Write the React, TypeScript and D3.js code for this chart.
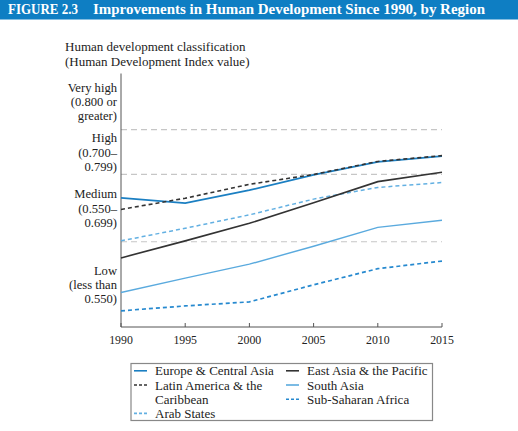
import React from 'react';
import * as d3 from 'd3';

// HDI values by region, 1990–2015
const years = [1990, 1995, 2000, 2005, 2010, 2015];
const europeCentralAsia = [0.648, 0.636, 0.665, 0.699, 0.728, 0.741];
const latinAmerica = [0.622, 0.647, 0.678, 0.700, 0.729, 0.742];
const eastAsiaPacific = [0.514, 0.552, 0.591, 0.637, 0.684, 0.705];
const southAsia = [0.437, 0.469, 0.500, 0.540, 0.582, 0.598];
const subSaharanAfrica = [0.396, 0.407, 0.416, 0.454, 0.490, 0.507];
const arabStates = [0.552, 0.580, 0.610, 0.645, 0.671, 0.682];

// classification thresholds and band labels
const thresholds = [0.55, 0.7, 0.8];
const bands = [
  { lo: 0.8, hi: 0.925, lines: ['Very high', '(0.800 or', 'greater)'] },
  { lo: 0.7, hi: 0.8, lines: ['High', '(0.700–', '0.799)'] },
  { lo: 0.55, hi: 0.7, lines: ['Medium', '(0.550–', '0.699)'] },
  { lo: 0.36, hi: 0.55, lines: ['Low', '(less than', '0.550)'] },
];

const series = [
  { name: 'Europe & Central Asia', values: europeCentralAsia, color: '#1b7fc2', dash: '', width: 1.7 },
  { name: 'Arab States', values: arabStates, color: '#63b0e2', dash: '4,3', width: 1.5 },
  { name: 'South Asia', values: southAsia, color: '#5aaade', dash: '', width: 1.4 },
  { name: 'Sub-Saharan Africa', values: subSaharanAfrica, color: '#2689cf', dash: '4,3', width: 1.7 },
  { name: 'East Asia & the Pacific', values: eastAsiaPacific, color: '#333333', dash: '', width: 1.6 },
  { name: 'Latin America & the Caribbean', values: latinAmerica, color: '#333333', dash: '4,3', width: 1.6 },
];

const W = 518;
const H = 431;
const serif = '"Liberation Serif", "Times New Roman", serif';

const x = d3.scaleLinear().domain([1990, 2015]).range([121, 442]);
const y = d3.scaleLinear().domain([0.36, 0.925]).range([327, 73.5]);

const line = d3
  .line<number>()
  .x((_, i) => x(years[i]))
  .y(d => y(d));

const legendItems = [
  { col: 0, row: 0, s: series[0], label: ['Europe & Central Asia'] },
  { col: 0, row: 1, s: series[5], label: ['Latin America & the', 'Caribbean'] },
  { col: 0, row: 3, s: series[1], label: ['Arab States'] },
  { col: 1, row: 0, s: series[4], label: ['East Asia & the Pacific'] },
  { col: 1, row: 1, s: series[2], label: ['South Asia'] },
  { col: 1, row: 2, s: series[3], label: ['Sub-Saharan Africa'] },
];

const App: React.FC = () => {
  const legX = [134, 286];
  const rowY = (r: number) => 370.8 + r * 14.2;

  return (
    <div style={{ position: 'fixed', left: 0, top: 0, background: '#fff' }}>
      <svg width={W} height={H} style={{ display: 'block' }}>
        <rect width={W} height={H} fill="#fff" />

        {/* title bar */}
        <rect x={0} y={0} width={W} height={19.5} fill="#0e7ec3" />
        <g fill="#fff" fontFamily={serif} fontWeight="bold" fontSize={15}>
          <text x={8} y={14} textLength={70} lengthAdjust="spacingAndGlyphs">
            FIGURE 2.3
          </text>
          <text x={93} y={14} textLength={392} lengthAdjust="spacingAndGlyphs">
            Improvements in Human Development Since 1990, by Region
          </text>
        </g>

        {/* axis title */}
        <g fontFamily={serif} fontSize={13} fill="#222">
          <text x={65} y={51}>Human development classification</text>
          <text x={65} y={66}>(Human Development Index value)</text>
        </g>

        {/* band labels */}
        <g fontFamily={serif} fontSize={12.6} fill="#222" textAnchor="end">
          {bands.map(b => {
            const mid = (y(b.lo) + y(b.hi)) / 2;
            return b.lines.map((t, i) => (
              <text key={t} x={117} y={mid + (i - 1) * 14.3 + 4.5}>
                {t}
              </text>
            ));
          })}
        </g>

        {/* threshold gridlines */}
        {thresholds.map(t => (
          <line
            key={t}
            x1={x(1990)}
            x2={x(2015)}
            y1={y(t)}
            y2={y(t)}
            stroke="#c6c6c6"
            strokeWidth={1.2}
            strokeDasharray="6,4"
          />
        ))}

        {/* axes */}
        <line x1={x(1990)} x2={x(1990)} y1={y(0.925)} y2={y(0.36)} stroke="#555" strokeWidth={1} />
        <line x1={x(1990)} x2={x(2015)} y1={y(0.36)} y2={y(0.36)} stroke="#555" strokeWidth={1} />
        {years.map(yr => (
          <g key={yr}>
            <line x1={x(yr)} x2={x(yr)} y1={y(0.36)} y2={y(0.36) - 4} stroke="#555" strokeWidth={1} />
            <text
              x={x(yr)}
              y={y(0.36) + 17}
              textAnchor="middle"
              fontFamily={serif}
              fontSize={11.8}
              fill="#222"
            >
              {yr}
            </text>
          </g>
        ))}

        {/* series */}
        {series.map(s => (
          <path
            key={s.name}
            d={line(s.values) ?? ''}
            fill="none"
            stroke={s.color}
            strokeWidth={s.width}
            strokeDasharray={s.dash || undefined}
          />
        ))}

        {/* legend */}
        <rect x={131} y={363.5} width={301.5} height={57} fill="#fff" stroke="#888" strokeWidth={1.2} />
        <g fontFamily={serif} fontSize={13} fill="#222">
          {legendItems.map(it => {
            const lx = legX[it.col];
            const ly = rowY(it.row);
            return (
              <g key={it.s.name}>
                <line
                  x1={lx}
                  x2={lx + 13}
                  y1={ly}
                  y2={ly}
                  stroke={it.s.color}
                  strokeWidth={1.6}
                  strokeDasharray={it.s.dash ? '3,2' : undefined}
                />
                {it.label.map((t, i) => (
                  <text key={t} x={lx + 21} y={ly + 4.5 + i * 14.2}>
                    {t}
                  </text>
                ))}
              </g>
            );
          })}
        </g>
      </svg>
    </div>
  );
};

export default App;
